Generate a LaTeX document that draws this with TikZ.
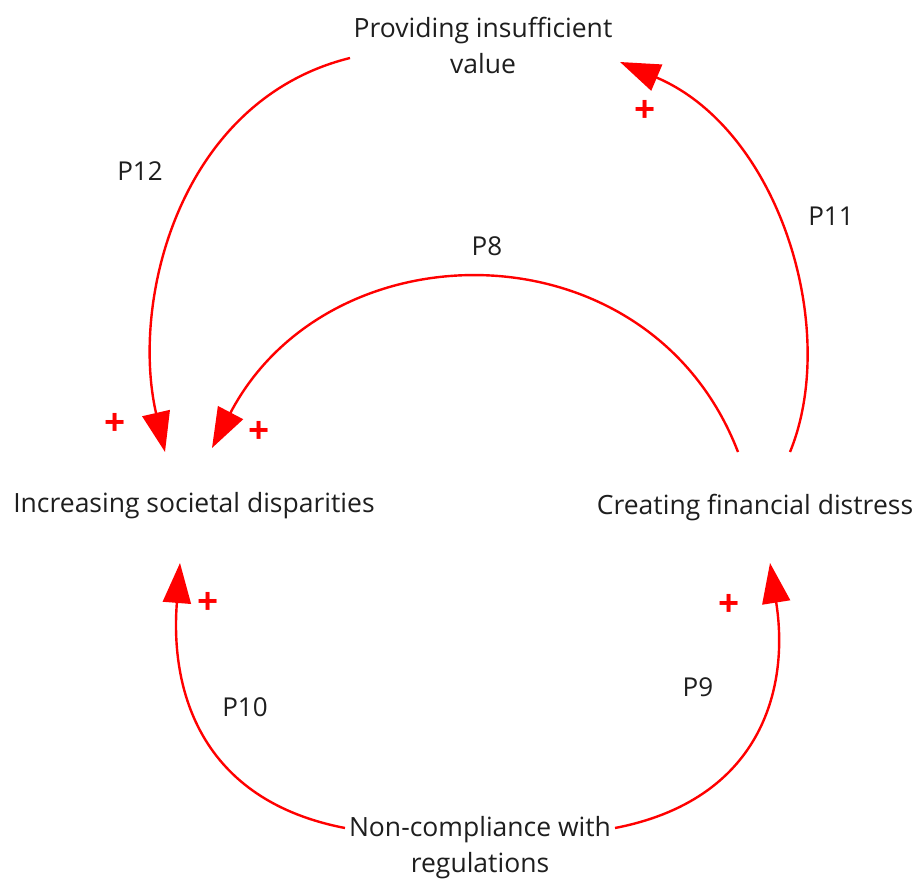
\documentclass[tikz,border=0pt]{standalone}
\usepackage{fontspec}
\setmainfont{Open Sans}
\usetikzlibrary{arrows.meta}
\definecolor{linkred}{RGB}{255,0,0}
\definecolor{ink}{RGB}{30,30,30}
\tikzset{
  var/.style={font=\fontsize{26.5}{36}\selectfont, text=ink, align=center, inner sep=0pt},
  lbl/.style={font=\fontsize{26}{30}\selectfont, text=ink, inner sep=0pt},
  sign/.style={font=\fontsize{37}{37}\selectfont\bfseries, text=linkred, inner sep=0pt},
  link/.style={draw=linkred, line width=2.4pt, -{Triangle[length=40pt,width=28pt]}},
}
\begin{document}
\begin{tikzpicture}[x=1pt,y=-1pt]
\useasboundingbox (0,0) rectangle (918,885);

% variables
\node[var] (val) at (483,45) {Providing insufficient\\value};
\node[var] (dis) at (194,506) {Increasing societal disparities};
\node[var] (fin) at (755,508) {Creating financial distress};
\node[var] (reg) at (480,848) {Non-compliance with\\regulations};

% link end points
\coordinate (p12s) at (350,58);   \coordinate (p12e) at (165,452);
\coordinate (p8s)  at (738,452);  \coordinate (p8e)  at (212,448);
\coordinate (p11s) at (790,452);  \coordinate (p11e) at (620,62);
\coordinate (p10s) at (345,828);  \coordinate (p10e) at (180,563);
\coordinate (p9s)  at (615,828);  \coordinate (p9e)  at (770,563);

% causal links
\draw[link] (p12s) .. controls (180,100) and (130,300) .. (p12e);
\draw[link] (p8s) .. controls (650,223) and (330,223) .. (p8e);
\draw[link] (p11s) .. controls (840,330) and (780,130) .. (p11e);
\draw[link] (p10s) .. controls (200,800) and (170,690) .. (p10e);
\draw[link] (p9s) .. controls (760,800) and (790,690) .. (p9e);

% link labels
\node[lbl] (l12) at (140,171) {P12};
\node[lbl] (l8)  at (487,246) {P8};
\node[lbl] (l11) at (831,216) {P11};
\node[lbl] (l10) at (245,707) {P10};
\node[lbl] (l9)  at (698,687) {P9};

% polarity signs
\node[sign] (s12) at (115,424) {+};
\node[sign] (s8)  at (259,432) {+};
\node[sign] (s11) at (645,111) {+};
\node[sign] (s10) at (208,603) {+};
\node[sign] (s9)  at (729,605) {+};
\end{tikzpicture}
\end{document}
